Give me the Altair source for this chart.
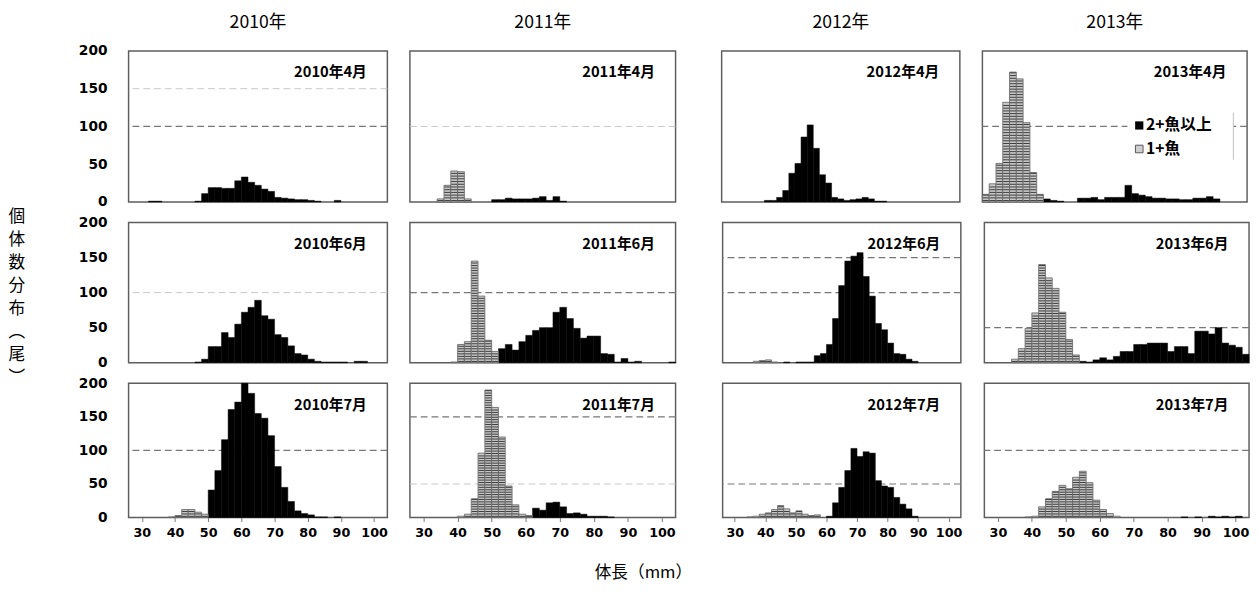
import altair as alt
import pandas as pd

# ---------------- data (counts per 2 mm length class) ----------------
BINS = [26, 28, 30, 32, 34, 36, 38, 40, 42, 44,
        46, 48, 50, 52, 54, 56, 58, 60, 62, 64,
        66, 68, 70, 72, 74, 76, 78, 80, 82, 84,
        86, 88, 90, 92, 94, 96, 98, 100, 102]
YEARS = ["2010", "2011", "2012", "2013"]
MONTHS = ["04", "06", "07"]
X_TICKS = [30, 40, 50, 60, 70, 80, 90, 100]
Y_TICKS = [0, 50, 100, 150, 200]

# 2+ fish and older (black)
adult_2010_04 = [0, 0, 0, 1, 1, 0, 0, 0, 0, 0,
                 1, 11, 19, 19, 18, 18, 28, 33, 26, 22,
                 17, 14, 6, 5, 4, 3, 3, 2, 1, 0,
                 0, 2, 0, 0, 0, 0, 0, 0, 0]
adult_2011_04 = [0, 0, 0, 0, 0, 0, 0, 0, 0, 0,
                 0, 0, 3, 3, 5, 4, 4, 4, 5, 7,
                 2, 7, 1, 0, 0, 0, 0, 0, 0, 0,
                 0, 0, 0, 0, 0, 0, 0, 0, 0]
adult_2012_04 = [0, 0, 0, 0, 0, 0, 0, 2, 2, 6,
                 15, 38, 51, 86, 102, 71, 36, 25, 6, 4,
                 2, 3, 4, 6, 4, 1, 1, 0, 0, 0,
                 0, 0, 0, 0, 0, 0, 0, 0, 0]
adult_2013_04 = [0, 0, 0, 0, 0, 0, 0, 0, 0, 4,
                 2, 1, 0, 0, 5, 5, 6, 3, 6, 6,
                 6, 22, 11, 9, 7, 5, 5, 4, 4, 3,
                 3, 5, 5, 7, 4, 0, 0, 0, 0]
adult_2010_06 = [0, 0, 0, 0, 0, 0, 0, 0, 0, 0,
                 1, 5, 23, 23, 43, 36, 55, 72, 79, 89,
                 67, 62, 40, 36, 24, 13, 11, 5, 2, 1,
                 1, 1, 1, 0, 2, 2, 0, 0, 0]
adult_2011_06 = [0, 0, 0, 0, 0, 0, 0, 0, 0, 0,
                 0, 0, 0, 20, 26, 18, 30, 39, 46, 50,
                 50, 72, 79, 63, 49, 35, 38, 38, 13, 12,
                 1, 6, 1, 2, 0, 0, 0, 0, 1]
adult_2012_06 = [0, 0, 0, 0, 0, 0, 0, 0, 0, 0,
                 1, 0, 1, 1, 1, 10, 13, 26, 63, 110,
                 145, 152, 157, 123, 95, 56, 47, 28, 13, 12,
                 5, 2, 0, 0, 0, 0, 0, 0, 0]
adult_2013_06 = [0, 0, 0, 0, 0, 0, 0, 0, 0, 0,
                 0, 0, 0, 0, 2, 1, 4, 7, 4, 9,
                 16, 16, 26, 26, 28, 28, 28, 16, 23, 23,
                 13, 45, 45, 41, 50, 28, 25, 22, 12]
adult_2010_07 = [0, 0, 0, 0, 0, 0, 0, 0, 0, 0,
                 0, 0, 41, 70, 116, 161, 172, 200, 185, 155,
                 148, 122, 76, 45, 24, 10, 6, 4, 1, 1,
                 0, 1, 0, 0, 0, 0, 0, 0, 0]
adult_2011_07 = [0, 0, 0, 0, 0, 0, 0, 0, 0, 0,
                 0, 0, 0, 0, 0, 0, 0, 0, 14, 11,
                 22, 23, 16, 6, 7, 5, 2, 2, 2, 1,
                 0, 0, 0, 0, 0, 0, 0, 0, 0]
adult_2012_07 = [0, 0, 0, 0, 0, 0, 0, 0, 0, 0,
                 0, 0, 0, 0, 0, 0, 0, 2, 22, 45,
                 70, 103, 91, 98, 96, 55, 47, 45, 30, 20,
                 13, 2, 0, 0, 0, 0, 0, 0, 0]
adult_2013_07 = [0, 0, 0, 0, 0, 0, 0, 0, 0, 0,
                 0, 0, 0, 0, 0, 0, 0, 0, 0, 0,
                 0, 0, 0, 0, 0, 0, 0, 0, 0, 1,
                 0, 1, 0, 2, 1, 2, 1, 2, 0]

# 1+ fish (hatched)
juv_2010_04 = []
juv_2011_04 = [0, 0, 0, 0, 4, 22, 41, 40, 4, 0,
               0, 0, 0, 0, 0, 0, 0, 0, 0, 0,
               0, 0, 0, 0, 0, 0, 0, 0, 0, 0,
               0, 0, 0, 0, 0, 0, 0, 0, 0]
juv_2012_04 = []
juv_2013_04 = [10, 24, 51, 132, 172, 163, 105, 39, 10, 0,
               0, 0, 0, 0, 0, 0, 0, 0, 0, 0,
               0, 0, 0, 0, 0, 0, 0, 0, 0, 0,
               0, 0, 0, 0, 0, 0, 0, 0, 0]
juv_2010_06 = []
juv_2011_06 = [0, 0, 0, 0, 0, 0, 1, 26, 30, 145,
               95, 32, 16, 0, 0, 0, 0, 0, 0, 0,
               0, 0, 0, 0, 0, 0, 0, 0, 0, 0,
               0, 0, 0, 0, 0, 0, 0, 0, 0]
juv_2012_06 = [0, 0, 0, 0, 0, 2, 3, 4, 1, 0,
               0, 0, 0, 0, 0, 0, 0, 0, 0, 0,
               0, 0, 0, 0, 0, 0, 0, 0, 0, 0,
               0, 0, 0, 0, 0, 0, 0, 0, 0]
juv_2013_06 = [0, 0, 0, 0, 5, 20, 49, 71, 140, 121,
               106, 72, 33, 11, 0, 0, 0, 0, 0, 0,
               0, 0, 0, 0, 0, 0, 0, 0, 0, 0,
               0, 0, 0, 0, 0, 0, 0, 0, 0]
juv_2010_07 = [0, 0, 0, 0, 0, 0, 1, 3, 12, 12,
               8, 5, 0, 0, 0, 0, 0, 0, 0, 0,
               0, 0, 0, 0, 0, 0, 0, 0, 0, 0,
               0, 0, 0, 0, 0, 0, 0, 0, 0]
juv_2011_07 = [0, 0, 0, 0, 0, 0, 0, 2, 5, 28,
               96, 190, 164, 120, 47, 19, 5, 3, 0, 0,
               0, 0, 0, 0, 0, 0, 0, 0, 0, 0,
               0, 0, 0, 0, 0, 0, 0, 0, 0]
juv_2012_07 = [0, 0, 0, 0, 1, 2, 5, 7, 12, 18,
               13, 7, 10, 5, 3, 4, 0, 0, 0, 0,
               0, 0, 0, 0, 0, 0, 0, 0, 0, 0,
               0, 0, 0, 0, 0, 0, 0, 0, 0]
juv_2013_07 = [0, 0, 0, 0, 0, 0, 1, 2, 16, 28,
               39, 48, 43, 60, 69, 52, 26, 12, 6, 2,
               0, 0, 0, 0, 0, 0, 0, 0, 0, 0,
               0, 0, 0, 0, 0, 0, 0, 0, 0]

DATA = {
    "2010-04": (adult_2010_04, juv_2010_04), "2011-04": (adult_2011_04, juv_2011_04),
    "2012-04": (adult_2012_04, juv_2012_04), "2013-04": (adult_2013_04, juv_2013_04),
    "2010-06": (adult_2010_06, juv_2010_06), "2011-06": (adult_2011_06, juv_2011_06),
    "2012-06": (adult_2012_06, juv_2012_06), "2013-06": (adult_2013_06, juv_2013_06),
    "2010-07": (adult_2010_07, juv_2010_07), "2011-07": (adult_2011_07, juv_2011_07),
    "2012-07": (adult_2012_07, juv_2012_07), "2013-07": (adult_2013_07, juv_2013_07),
}

# horizontal reference lines drawn in each panel
GRID_DARK = {"2010-04": [100], "2013-04": [100], "2011-06": [100],
             "2012-06": [100, 150], "2013-06": [50], "2010-07": [100],
             "2011-07": [150], "2012-07": [50], "2013-07": [100]}
GRID_FAINT = {"2010-04": [150], "2011-04": [100], "2010-06": [100], "2011-07": [50]}

LEGEND_LABELS = ["2+魚以上", "1+魚"]
Y_TITLE = ["個", "体", "数", "分", "布", "︵", "尾", "︶"]
X_TITLE = "体長（mm）"

# ---------------- layout ----------------
COL_W = [264, 271, 243, 270]
ROW_H = [154, 143, 137]
JP = "Noto Sans CJK JP"
NUM = "DejaVu Sans"
STRIPE_STEP = 3.6


def make_panel(ci, ri):
    year, month = YEARS[ci], MONTHS[ri]
    key = f"{year}-{month}"
    adult, juv = DATA[key]
    w, h = COL_W[ci], ROW_H[ri]

    x_axis = None
    y_axis = None
    if ri == 2:
        x_axis = alt.Axis(values=X_TICKS, labelFont=NUM, labelFontWeight="bold",
                          labelFontSize=13, labelColor="black", labelPadding=5, tickSize=4,
                          tickColor="#777", domain=False, grid=False, labelFlush=False,
                          title=None)
    if ci == 0:
        y_axis = alt.Axis(values=Y_TICKS, labelFont=NUM, labelFontWeight="bold",
                          labelFontSize=14, labelColor="black", labelPadding=22, tickSize=0,
                          domain=False, grid=False, title=None)

    xs = alt.Scale(domain=[26, 104], nice=False, zero=False)
    ys = alt.Scale(domain=[0, 200], nice=False)

    def X(f):
        return alt.X(f"{f}:Q", scale=xs, axis=x_axis)

    def Y(f):
        return alt.Y(f"{f}:Q", scale=ys, axis=y_axis)

    layers = []
    faint = GRID_FAINT.get(key, [])
    dark = GRID_DARK.get(key, [])
    if faint:
        layers.append(alt.Chart(pd.DataFrame({"level": faint})).mark_rule(
            color="#c8c8c8", strokeDash=[7, 4], strokeWidth=1).encode(y=Y("level")))
    if dark:
        layers.append(alt.Chart(pd.DataFrame({"level": dark})).mark_rule(
            color="#777777", strokeDash=[7, 4], strokeWidth=1.2).encode(y=Y("level")))

    a_rows = [{"start": b, "end": b + 2, "n": v} for b, v in zip(BINS, adult) if v > 0]
    if a_rows:
        layers.append(alt.Chart(pd.DataFrame(a_rows)).mark_rect(
            color="black", stroke="black", strokeWidth=0.5).encode(
            x=X("start"), x2="end:Q", y=Y("n"), y2=alt.datum(0)))

    j_rows = [{"start": b, "end": b + 2, "n": v} for b, v in zip(BINS, juv) if v > 0]
    if j_rows:
        layers.append(alt.Chart(pd.DataFrame(j_rows)).mark_rect(
            fill="#c8c8c8", stroke="#5e5e5e", strokeWidth=0.8).encode(
            x=X("start"), x2="end:Q", y=Y("n"), y2=alt.datum(0)))
        stripes = []
        for r in j_rows:
            lv = STRIPE_STEP / 2
            while lv < r["n"] - 0.8:
                stripes.append({"x0": r["start"] + 0.12, "x1": r["end"] - 0.12, "level": lv})
                lv += STRIPE_STEP
        if stripes:
            layers.append(alt.Chart(pd.DataFrame(stripes)).mark_rule(
                color="#3a3a3a", strokeWidth=1).encode(
                x=X("x0"), x2="x1:Q", y=Y("level")))

    if key == "2013-04":
        one = pd.DataFrame({"k": [0]})
        layers.append(alt.Chart(one).mark_rect(fill="white").encode(
            x=alt.value(148), x2=alt.value(256), y=alt.value(63), y2=alt.value(112)))
        layers.append(alt.Chart(one).mark_rule(color="#c0c0c0", strokeWidth=1).encode(
            x=alt.value(256), y=alt.value(63), y2=alt.value(111)))
        layers.append(alt.Chart(one).mark_square(size=70, fill="black", opacity=1).encode(
            x=alt.value(160), y=alt.value(76)))
        layers.append(alt.Chart(one).mark_square(size=60, fill="#cfcfcf", stroke="#555",
                                                 strokeWidth=1, opacity=1).encode(
            x=alt.value(160), y=alt.value(100)))
        leg = pd.DataFrame({"t": LEGEND_LABELS})
        layers.append(alt.Chart(leg.iloc[[0]]).mark_text(
            align="left", baseline="middle", font=JP, fontSize=16, fontWeight="bold",
            color="black").encode(text="t:N", x=alt.value(167), y=alt.value(76)))
        layers.append(alt.Chart(leg.iloc[[1]]).mark_text(
            align="left", baseline="middle", font=JP, fontSize=16, fontWeight="bold",
            color="black").encode(text="t:N", x=alt.value(167), y=alt.value(100)))

    label = f"{year}年{int(month)}月"
    layers.append(alt.Chart(pd.DataFrame({"t": [label]})).mark_text(
        align="right", baseline="middle", font=JP, fontSize=15, fontWeight="bold",
        color="black").encode(text="t:N", x=alt.value(w - 21), y=alt.value(22)))

    if ri == 0:
        layers.append(alt.Chart(pd.DataFrame({"t": [f"{year}年"]})).mark_text(
            align="center", baseline="middle", font=JP, fontSize=18, fontWeight="normal",
            color="black").encode(text="t:N", x=alt.value(w / 2), y=alt.value(-28)))

    return alt.layer(*layers).properties(width=w, height=h)


def make_row(ri):
    p = [make_panel(ci, ri) for ci in range(4)]
    left = alt.hconcat(p[0], p[1], spacing=19)
    right = alt.hconcat(p[2], p[3], spacing=20)
    return alt.hconcat(left, right, spacing=44)


inner = alt.vconcat(make_row(0), make_row(1), make_row(2), spacing=5).properties(
    title=alt.TitleParams(text=X_TITLE, orient="bottom", anchor="middle", font=JP,
                          fontSize=17, fontWeight="normal", color="black", offset=26, dx=-21)
)

chart = alt.vconcat(inner).properties(
    title=alt.TitleParams(text=Y_TITLE, orient="left", anchor="middle", angle=0,
                          baseline="middle", align="center", font=JP, fontSize=17,
                          fontWeight="normal", color="black", lineHeight=23.5, offset=45,
                          dy=-82),
    padding={"left": 0, "top": 0, "right": 0, "bottom": 0},
    background="white",
).configure_view(
    stroke="#5e5e5e", strokeWidth=1.5
).configure_axis(
    grid=False
)

chart.save("out.html", embed_options={"renderer": "svg", "actions": False})
